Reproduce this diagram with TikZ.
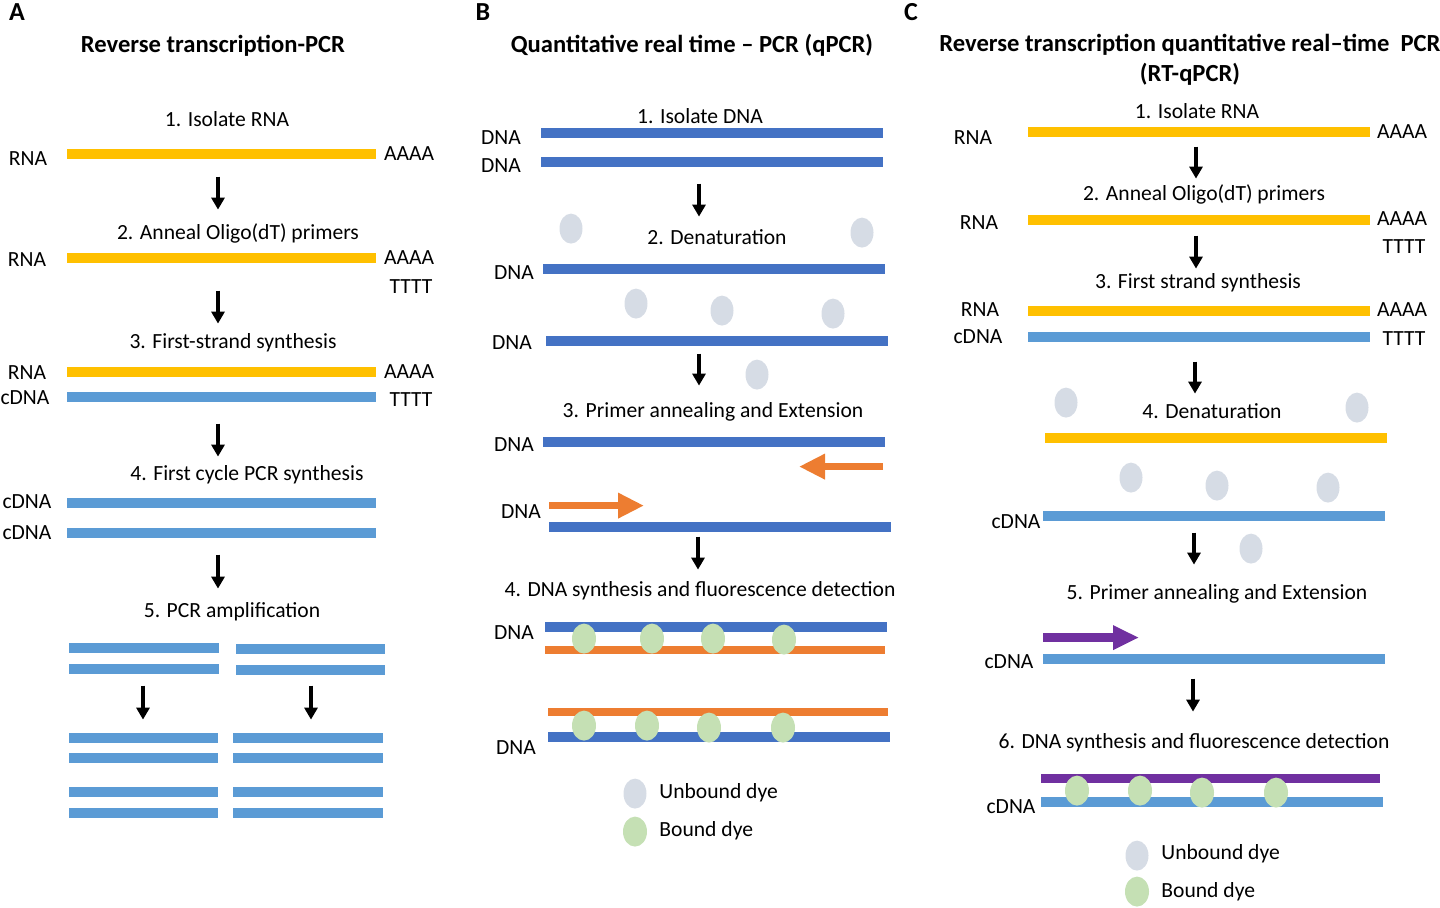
\documentclass[tikz,border=0pt]{standalone}
\usepackage{fontspec}
\setmainfont{Carlito}
\usetikzlibrary{shapes.geometric, arrows.meta, positioning}

\definecolor{rnagold}{HTML}{FFC000}
\definecolor{cdnablue}{HTML}{5B9BD5}
\definecolor{dnablue}{HTML}{4472C4}
\definecolor{primerorange}{HTML}{ED7D31}
\definecolor{primerpurple}{HTML}{7030A0}
\definecolor{dyegray}{HTML}{D6DCE5}
\definecolor{dyegreen}{HTML}{C5E0B4}

\begin{document}
\begin{tikzpicture}[x=0.5pt, y=-0.5pt,
    every node/.style={font=\fontsize{10.8}{13}\selectfont, inner sep=0pt, yshift=-0.8pt},
    panel/.style={font=\bfseries\fontsize{13}{15}\selectfont},
    title/.style={font=\bfseries\fontsize{12.3}{15}\selectfont, align=center},
    rna/.style={line width=5pt, draw=rnagold},
    cdna/.style={line width=5pt, draw=cdnablue},
    dna/.style={line width=5pt, draw=dnablue},
    newstrand/.style={line width=4pt, draw=primerorange},
    newcdna/.style={line width=4.5pt, draw=primerpurple},
    steparrow/.style={line width=1.6pt, -{Triangle[width=6.5pt, length=6pt]}},
    primer/.style={line width=3.5pt, draw=primerorange, -{Triangle[width=12pt, length=13pt]}},
    cprimer/.style={line width=4.5pt, draw=primerpurple, -{Triangle[width=11.5pt, length=13pt]}},
    unbound/.style={ellipse, fill=dyegray, minimum width=11.5pt, minimum height=15pt, inner sep=0pt, yshift=0pt},
    bound/.style={ellipse, fill=dyegreen, minimum width=12pt, minimum height=15pt, inner sep=0pt, yshift=0pt}
    ]
    \useasboundingbox (0,0) rectangle (1440,907);

    % Panel A: Reverse transcription-PCR
    \node (pa) [panel] at (17,10) {A};
    \node (ta) [title] at (213,44) {Reverse transcription-PCR};
    \node (a1) at (227,117) {1. Isolate RNA};
    \node (a1rna) at (28,157) {RNA};
    \node (a1aaaa) at (409,152) {AAAA};
    \draw [rna] (67,154) -- (376,154);
    \node (a2) at (238,232) {2. Anneal Oligo(dT) primers};
    \node (a2rna) at (27,258) {RNA};
    \node (a2aaaa) at (409,256) {AAAA};
    \node (a2tttt) at (411,285) {TTTT};
    \draw [rna] (67,258) -- (376,258);
    \node (a3) at (233,341) {3. First-strand synthesis};
    \node (a3rna) at (27,371) {RNA};
    \node (a3aaaa) at (409,370) {AAAA};
    \node (a3cdna) at (25,396) {cDNA};
    \node (a3tttt) at (411,398) {TTTT};
    \draw [rna] (67,372) -- (376,372);
    \draw [cdna] (67,397) -- (376,397);
    \node (a4) at (247,473) {4. First cycle PCR synthesis};
    \node (a4cdna1) at (27,500) {cDNA};
    \node (a4cdna2) at (27,531) {cDNA};
    \draw [cdna] (67,503) -- (376,503);
    \draw [cdna] (67,533) -- (376,533);
    \node (a5) at (232,610) {5. PCR amplification};
    \draw [cdna] (69,648) -- (219,648);
    \draw [cdna] (69,669) -- (219,669);
    \draw [cdna] (236,649) -- (385,649);
    \draw [cdna] (236,670) -- (385,670);
    \draw [cdna] (69,738) -- (218,738);
    \draw [cdna] (69,758) -- (218,758);
    \draw [cdna] (69,792) -- (218,792);
    \draw [cdna] (69,813) -- (218,813);
    \draw [cdna] (233,738) -- (383,738);
    \draw [cdna] (233,758) -- (383,758);
    \draw [cdna] (233,792) -- (383,792);
    \draw [cdna] (233,813) -- (383,813);

    % Arrows - A
    \coordinate (aa1s) at (218,175); \coordinate (aa1e) at (218,208);
    \coordinate (aa2s) at (218,289); \coordinate (aa2e) at (218,322);
    \coordinate (aa3s) at (218,422); \coordinate (aa3e) at (218,455);
    \coordinate (aa4s) at (218,553); \coordinate (aa4e) at (218,587);
    \coordinate (aa5s) at (143,684); \coordinate (aa5e) at (143,718);
    \coordinate (aa6s) at (311,684); \coordinate (aa6e) at (311,718);
    \draw [steparrow] (aa1s) -- (aa1e);
    \draw [steparrow] (aa2s) -- (aa2e);
    \draw [steparrow] (aa3s) -- (aa3e);
    \draw [steparrow] (aa4s) -- (aa4e);
    \draw [steparrow] (aa5s) -- (aa5e);
    \draw [steparrow] (aa6s) -- (aa6e);

    % Panel B: qPCR
    \node (pb) [panel] at (483,10) {B};
    \node (tb) [title] at (692,44) {Quantitative real time -- PCR (qPCR)};
    \node (b1) at (700,114) {1. Isolate DNA};
    \node (b1dna1) at (501,136) {DNA};
    \node (b1dna2) at (501,164) {DNA};
    \draw [dna] (541,133) -- (883,133);
    \draw [dna] (541,162) -- (883,162);
    \node (b2) at (717,236) {2. Denaturation};
    \node (bu1) [unbound] at (571,227) {};
    \node (bu2) [unbound] at (862,231) {};
    \node (b2dna1) at (514,271) {DNA};
    \draw [dna] (543,269) -- (885,269);
    \node (bu3) [unbound] at (636,302) {};
    \node (bu4) [unbound] at (722,309) {};
    \node (bu5) [unbound] at (833,312) {};
    \node (b2dna2) at (512,341) {DNA};
    \draw [dna] (546,341) -- (888,341);
    \node (bu6) [unbound] at (757,373) {};
    \node (b3) at (713,410) {3. Primer annealing and Extension};
    \node (b3dna1) at (514,443) {DNA};
    \draw [dna] (543,442) -- (885,442);
    \coordinate (bp1s) at (883,465); \coordinate (bp1e) at (799,465);
    \draw [primer] (bp1s) -- (bp1e);
    \node (b3dna2) at (521,510) {DNA};
    \coordinate (bp2s) at (549,504); \coordinate (bp2e) at (644,504);
    \draw [primer] (bp2s) -- (bp2e);
    \draw [dna] (549,527) -- (891,527);
    \node (b4) at (700,589) {4. DNA synthesis and fluorescence detection};
    \node (b4dna1) at (514,631) {DNA};
    \draw [dna] (545,627) -- (887,627);
    \draw [newstrand] (545,650) -- (885,650);
    \node (bb1) [bound] at (584,637) {};
    \node (bb2) [bound] at (652,637) {};
    \node (bb3) [bound] at (713,637) {};
    \node (bb4) [bound] at (784,638) {};
    \draw [newstrand] (548,712) -- (888,712);
    \draw [dna] (548,737) -- (890,737);
    \node (bb5) [bound] at (584,724) {};
    \node (bb6) [bound] at (647,724) {};
    \node (bb7) [bound] at (709,726) {};
    \node (bb8) [bound] at (783,726) {};
    \node (b4dna2) at (516,746) {DNA};

    % Legend - B
    \node (blu) [unbound] at (635,792) {};
    \node (blb) [bound] at (635,830) {};
    \node (blut) [anchor=west] at (659,791) {Unbound dye};
    \node (blbt) [anchor=west] at (659,829) {Bound dye};

    % Arrows - B
    \coordinate (ba1s) at (699,182); \coordinate (ba1e) at (699,215);
    \coordinate (ba2s) at (699,352); \coordinate (ba2e) at (699,384);
    \coordinate (ba3s) at (698,535); \coordinate (ba3e) at (698,568);
    \draw [steparrow] (ba1s) -- (ba1e);
    \draw [steparrow] (ba2s) -- (ba2e);
    \draw [steparrow] (ba3s) -- (ba3e);

    % Panel C: RT-qPCR
    \node (pc) [panel] at (911,10) {C};
    \node (tc) [title] at (1190,58) {Reverse transcription quantitative real--time\ \ PCR\\(RT-qPCR)};
    \node (c1) at (1197,109) {1. Isolate RNA};
    \node (c1rna) at (973,136) {RNA};
    \node (c1aaaa) at (1402,130) {AAAA};
    \draw [rna] (1028,132) -- (1370,132);
    \node (c2) at (1204,193) {2. Anneal Oligo(dT) primers};
    \node (c2rna) at (979,221) {RNA};
    \node (c2aaaa) at (1402,217) {AAAA};
    \node (c2tttt) at (1404,245) {TTTT};
    \draw [rna] (1028,220) -- (1370,220);
    \node (c3) at (1198,281) {3. First strand synthesis};
    \node (c3rna) at (980,308) {RNA};
    \node (c3aaaa) at (1402,308) {AAAA};
    \node (c3cdna) at (978,335) {cDNA};
    \node (c3tttt) at (1404,337) {TTTT};
    \draw [rna] (1028,311) -- (1370,311);
    \draw [cdna] (1028,337) -- (1370,337);
    \node (cu1) [unbound] at (1066,401) {};
    \node (cu2) [unbound] at (1357,406) {};
    \node (c4) at (1212,410) {4. Denaturation};
    \draw [rna] (1045,438) -- (1387,438);
    \node (cu3) [unbound] at (1131,476) {};
    \node (cu4) [unbound] at (1217,484) {};
    \node (cu5) [unbound] at (1328,486) {};
    \node (c4cdna) at (1016,520) {cDNA};
    \draw [cdna] (1043,516) -- (1385,516);
    \node (cu6) [unbound] at (1251,547) {};
    \node (c5) at (1217,592) {5. Primer annealing and Extension};
    \coordinate (cps) at (1043,636); \coordinate (cpe) at (1139,636);
    \draw [cprimer] (cps) -- (cpe);
    \node (c5cdna) at (1009,660) {cDNA};
    \draw [cdna] (1043,659) -- (1385,659);
    \node (c6) at (1194,741) {6. DNA synthesis and fluorescence detection};
    \draw [newcdna] (1041,778) -- (1380,778);
    \draw [cdna] (1041,802) -- (1383,802);
    \node (cb1) [bound] at (1077,789) {};
    \node (cb2) [bound] at (1140,789) {};
    \node (cb3) [bound] at (1202,791) {};
    \node (cb4) [bound] at (1276,791) {};
    \node (c6cdna) at (1011,805) {cDNA};

    % Legend - C
    \node (clu) [unbound] at (1137,854) {};
    \node (clb) [bound] at (1137,890) {};
    \node (clut) [anchor=west] at (1161,852) {Unbound dye};
    \node (clbt) [anchor=west] at (1161,890) {Bound dye};

    % Arrows - C
    \coordinate (ca1s) at (1196,145); \coordinate (ca1e) at (1196,177);
    \coordinate (ca2s) at (1196,234); \coordinate (ca2e) at (1196,267);
    \coordinate (ca3s) at (1195,360); \coordinate (ca3e) at (1195,392);
    \coordinate (ca4s) at (1194,531); \coordinate (ca4e) at (1194,563);
    \coordinate (ca5s) at (1193,677); \coordinate (ca5e) at (1193,710);
    \draw [steparrow] (ca1s) -- (ca1e);
    \draw [steparrow] (ca2s) -- (ca2e);
    \draw [steparrow] (ca3s) -- (ca3e);
    \draw [steparrow] (ca4s) -- (ca4e);
    \draw [steparrow] (ca5s) -- (ca5e);

\end{tikzpicture}
\end{document}
